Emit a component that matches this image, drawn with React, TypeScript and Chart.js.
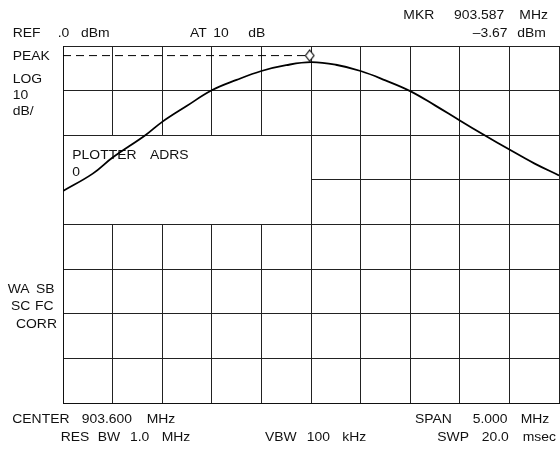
import React, { useEffect, useRef } from "react";
import { Chart, registerables } from "chart.js";

Chart.register(...registerables);

// Frequency (MHz) and level (dBm) of the displayed trace
const traceFreqs = [901.1, 901.4, 901.6, 901.93, 902.1, 902.35, 902.6, 902.85, 903.1, 903.35, 903.6, 903.85, 904.1, 904.35, 904.6, 904.85, 905.1, 905.35, 905.6, 905.85, 906.1];
const traceLevels = [-32.5, -28.6, -25.0, -20.0, -17.0, -13.4, -9.93, -7.6, -5.6, -4.3, -3.62, -4.2, -5.6, -7.7, -10.1, -13.3, -16.7, -20.0, -23.2, -26.3, -29.0];

// Marker
const markerFreq = 903.587;
const markerLevel = -2.15; // diamond drawn just above the -3.67 dBm peak
const dashStartFreq = 901.1;

// Axes: center 903.600 MHz, span 5.000 MHz, ref 0 dBm, 10 dB/div
const centerFreq = 903.6;
const spanMHz = 5.0;
const xDivs = 10;
const refLevel = 0;
const dbPerDiv = 10;
const yDivs = 8;
const xGrid = Array.from({ length: xDivs + 1 }, (_, i) => centerFreq - spanMHz / 2 + (i * spanMHz) / xDivs);
const yGrid = Array.from({ length: yDivs + 1 }, (_, i) => refLevel - i * dbPerDiv);

type Lbl = [string, number, number];
const outerLabels: Lbl[] = [
  ["MKR", 403.3, 19.3], ["903.587", 454, 19.3], ["MHz", 519.3, 19.3],
  ["REF", 12.7, 36.7], [".0", 57.7, 36.7], ["dBm", 81, 36.7],
  ["AT", 190, 36.7], ["10", 213.3, 36.7], ["dB", 248.3, 36.7],
  ["\u20133.67", 472.7, 36.7], ["dBm", 517.3, 36.7],
  ["PEAK", 12.7, 60], ["LOG", 12.7, 83.3], ["10", 12.7, 99.3], ["dB/", 12.7, 115],
  ["WA", 7.7, 293.3], ["SB", 36, 293.3], ["SC", 11, 310], ["FC", 35, 310], ["CORR", 16, 327.7],
  ["CENTER", 12.3, 423.3], ["903.600", 81.7, 423.3], ["MHz", 146.7, 423.3],
  ["RES", 60.7, 441], ["BW", 97.7, 441], ["1.0", 130, 441], ["MHz", 161.7, 441],
  ["VBW", 265, 441], ["100", 306.7, 441], ["kHz", 342.3, 441],
  ["SPAN", 415, 423.3], ["5.000", 472.7, 423.3], ["MHz", 520.7, 423.3],
  ["SWP", 437.3, 441], ["20.0", 481.7, 441], ["msec", 522.7, 441],
];
const boxLabels: Lbl[] = [["PLOTTER", 72.3, 159], ["ADRS", 150, 159], ["0", 72.3, 176]];

const FONT = '13px "Liberation Sans", Arial, sans-serif';
const TEXT_COLOR = "#111";
const SX = 1.07;

function drawLabels(ctx: CanvasRenderingContext2D, labels: Lbl[]) {
  ctx.save();
  ctx.font = FONT;
  ctx.fillStyle = TEXT_COLOR;
  ctx.textBaseline = "alphabetic";
  ctx.textAlign = "left";
  for (const [t, x, y] of labels) {
    ctx.save();
    ctx.translate(x, y);
    ctx.scale(SX, 1);
    ctx.fillText(t, 0, 0);
    ctx.restore();
  }
  ctx.restore();
}

function makeDiamond(): HTMLCanvasElement {
  const c = document.createElement("canvas");
  c.width = 11;
  c.height = 13;
  const g = c.getContext("2d")!;
  g.fillStyle = "#fff";
  g.strokeStyle = "#000";
  g.lineWidth = 1.1;
  g.beginPath();
  g.moveTo(5.5, 1);
  g.lineTo(9.8, 6.5);
  g.lineTo(5.5, 12);
  g.lineTo(1.2, 6.5);
  g.closePath();
  g.fill();
  g.stroke();
  return c;
}

// pixel row/column actually covered by a 1px aligned grid line
const linePix = (p: number) => Math.round(p - 0.5);

const annotPlugin = {
  id: "annot",
  beforeDatasetsDraw(chart: any) {
    const { ctx, scales } = chart;
    const x = scales.x, y = scales.y;
    const l = linePix(x.left) + 1;
    const r = linePix(x.getPixelForValue(centerFreq));
    const t = linePix(y.getPixelForValue(-20)) + 1;
    const b = linePix(y.getPixelForValue(-40));
    ctx.save();
    ctx.fillStyle = "#fff";
    ctx.fillRect(l, t, r - l, b - t);
    ctx.restore();
    drawLabels(ctx, boxLabels);
  },
  afterDraw(chart: any) {
    drawLabels(chart.ctx, outerLabels);
  },
};

export default function App() {
  const ref = useRef<HTMLCanvasElement>(null);
  useEffect(() => {
    if (!ref.current) return;
    const diamond = makeDiamond();
    const chart = new Chart(ref.current, {
      type: "line",
      data: {
        datasets: [
          {
            data: traceFreqs.map((f, i) => ({ x: f, y: traceLevels[i] })),
            borderColor: "#000",
            borderWidth: 1.8,
            pointRadius: 0,
            tension: 0.4,
            fill: false,
          },
          {
            data: [
              { x: dashStartFreq, y: markerLevel },
              { x: markerFreq - 0.04, y: markerLevel },
            ],
            borderColor: "#000",
            borderWidth: 1,
            borderDash: [8, 5],
            pointRadius: 0,
            fill: false,
          },
          {
            data: [{ x: markerFreq, y: markerLevel }],
            showLine: false,
            pointStyle: diamond as any,
            pointRadius: 6,
          },
        ],
      },
      options: {
        animation: false,
        responsive: false,
        maintainAspectRatio: false,
        devicePixelRatio: 1,
        layout: { autoPadding: false, padding: { left: 63, top: 46, right: 1, bottom: 47 } },
        plugins: { legend: { display: false }, tooltip: { enabled: false } },
        scales: {
          x: {
            type: "linear",
            min: xGrid[0],
            max: xGrid[xGrid.length - 1],
            afterBuildTicks: (s: any) => {
              s.ticks = xGrid.map((v) => ({ value: v }));
            },
            ticks: { display: false },
            grid: { color: "#222", lineWidth: 1, drawTicks: false },
            border: { display: true, color: "#111", width: 1 },
          },
          y: {
            type: "linear",
            min: yGrid[yGrid.length - 1],
            max: yGrid[0],
            afterBuildTicks: (s: any) => {
              s.ticks = yGrid.map((v) => ({ value: v }));
            },
            ticks: { display: false },
            grid: { color: "#222", lineWidth: 1, drawTicks: false },
            border: { display: true, color: "#111", width: 1 },
          },
        },
      },
      plugins: [annotPlugin],
    });
    return () => chart.destroy();
  }, []);
  return (
    <div style={{ position: "absolute", left: 0, top: 0, width: 560, height: 450, background: "#fff" }}>
      <canvas ref={ref} width={560} height={450} style={{ width: 560, height: 450 }} />
    </div>
  );
}
